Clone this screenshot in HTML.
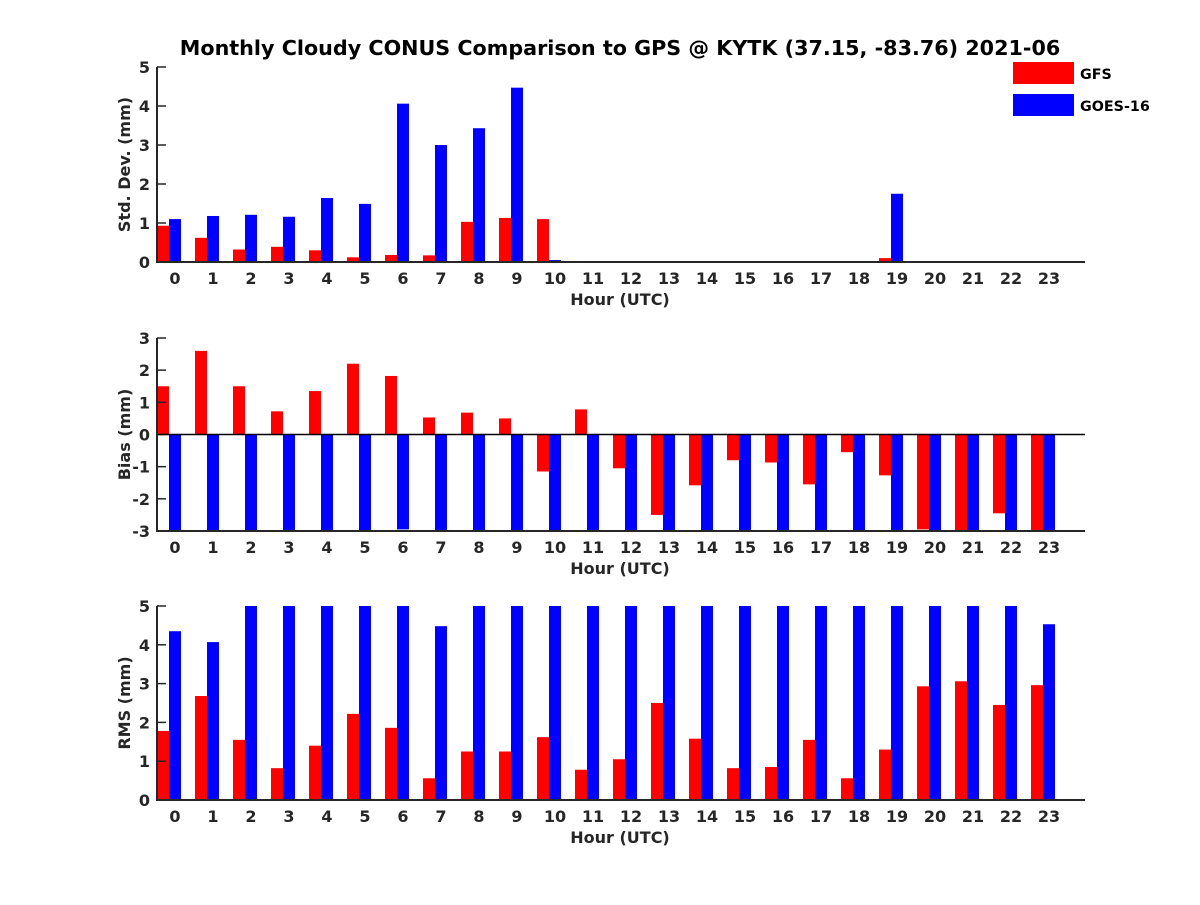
<!DOCTYPE html>
<html><head><meta charset="utf-8"><style>
body{margin:0;background:#fff}
svg text{font-family:"DejaVu Sans","Liberation Sans",sans-serif;font-weight:bold;fill:#262626}
</style></head><body>
<svg id="c" width="1200" height="900" xmlns="http://www.w3.org/2000/svg">
<text x="620" y="55" text-anchor="middle" font-size="20.7" style="fill:#000">Monthly Cloudy CONUS Comparison to GPS @ KYTK (37.15, -83.76) 2021-06</text>
<g>
<rect x="1013" y="62" width="61" height="22" fill="#ff0000"/>
<text x="1080" y="79" font-size="14.3" style="fill:#000">GFS</text>
<rect x="1013" y="94" width="61" height="22" fill="#0000ff"/>
<text x="1080" y="111" font-size="14.3" style="fill:#000">GOES-16</text>
</g>
</svg>
<script>
const hours=[0,1,2,3,4,5,6,7,8,9,10,11,12,13,14,15,16,17,18,19,20,21,22,23];
const stdGFS=[0.93,0.62,0.32,0.39,0.3,0.12,0.18,0.17,1.03,1.13,1.1,0,0,0,0,0,0,0,0,0.1,0,0,0,0];
const stdGOES=[1.1,1.18,1.21,1.16,1.64,1.49,4.06,3.0,3.43,4.47,0.05,0,0,0,0,0,0,0,0,1.75,0,0,0,0];
const biasGFS=[1.5,2.6,1.5,0.72,1.35,2.2,1.82,0.53,0.68,0.5,-1.15,0.78,-1.05,-2.5,-1.58,-0.8,-0.87,-1.55,-0.55,-1.27,-2.95,-3.2,-2.45,-2.98];
const biasGOES=[-4,-4,-4,-4,-4,-4,-2.95,-4,-4,-4,-4,-4,-4,-4,-4,-4,-4,-4,-4,-4,-4,-4,-4,-4];
const rmsGFS=[1.78,2.68,1.55,0.82,1.4,2.22,1.86,0.56,1.25,1.25,1.62,0.78,1.05,2.5,1.58,0.82,0.85,1.55,0.56,1.3,2.93,3.06,2.45,2.96];
const rmsGOES=[4.35,4.07,6,6,6,6,6,4.48,6,6,6,6,6,6,6,6,6,6,6,6,6,6,6,4.53];
const stdTicks=[0,1,2,3,4,5];
const biasTicks=[-3,-2,-1,0,1,2,3];
const rmsTicks=[0,1,2,3,4,5];
const svg=document.getElementById('c');
const NS='http://www.w3.org/2000/svg';
function mk(tag,attrs,parent){const e=document.createElementNS(NS,tag);for(const k in attrs)e.setAttribute(k,attrs[k]);(parent||svg).appendChild(e);return e;}
const xL=157,xR=1085;
function xs(h){return 169+38*h;}
function panel(name,top,bot,ymin,ymax,ticks,red,blue,ylabel,zeroLine){
  const g=mk('g',{});
  
  
  const ys=v=>bot-(v-ymin)/(ymax-ymin)*(bot-top);
  const clamp=v=>Math.max(ymin,Math.min(ymax,v));
  const base=ys(clamp(0));
  hours.forEach((h,i)=>{
    const c=xs(h);
    [[red[i],'#ff0000',c-12,'gfs'],[blue[i],'#0000ff',c,'goes']].forEach(([v,col,x0,s])=>{
      const yv=ys(clamp(v));
      const r=mk('rect',{x:x0,y:Math.min(yv,base),width:12,height:Math.abs(base-yv),fill:col},g);
      
      
    });
    const t=mk('text',{x:c+6,y:bot+22,'text-anchor':'middle','font-size':'16'},g);
    
    
    t.textContent=h;
  });
  ticks.forEach(v=>{
    const y=ys(v);
    const l=mk('line',{x1:xL,x2:xL+9,y1:y,y2:y,stroke:'#262626','stroke-width':1.5},g);
    
    
    const t=mk('text',{x:150,y:y+6,'text-anchor':'end','font-size':'16'},g);
    
    
    t.textContent=v;
  });
  if(zeroLine){
    const z=mk('line',{x1:xL,x2:xR,y1:ys(0),y2:ys(0),stroke:'#000','stroke-width':1.5},g);
    
    
  }
  const ax=mk('path',{d:`M${xL} ${top}V${bot}H${xR}`,fill:'none',stroke:'#262626','stroke-width':2},g);
  
  
  const xt=mk('text',{x:620,y:bot+43,'text-anchor':'middle','font-size':'16'},g);
  
  
  xt.textContent='Hour (UTC)';
  const cy=(top+bot)/2;
  const yt=mk('text',{x:0,y:0,'text-anchor':'middle','font-size':'16',transform:`translate(130 ${cy}) rotate(-90)`},g);
  
  
  yt.textContent=ylabel;
}
panel('std',67,262,0,5,stdTicks,stdGFS,stdGOES,'Std. Dev. (mm)',false);
panel('bias',338,531,-3,3,biasTicks,biasGFS,biasGOES,'Bias (mm)',true);
panel('rms',606,800,0,5,rmsTicks,rmsGFS,rmsGOES,'RMS (mm)',false);
</script>
</body></html>
